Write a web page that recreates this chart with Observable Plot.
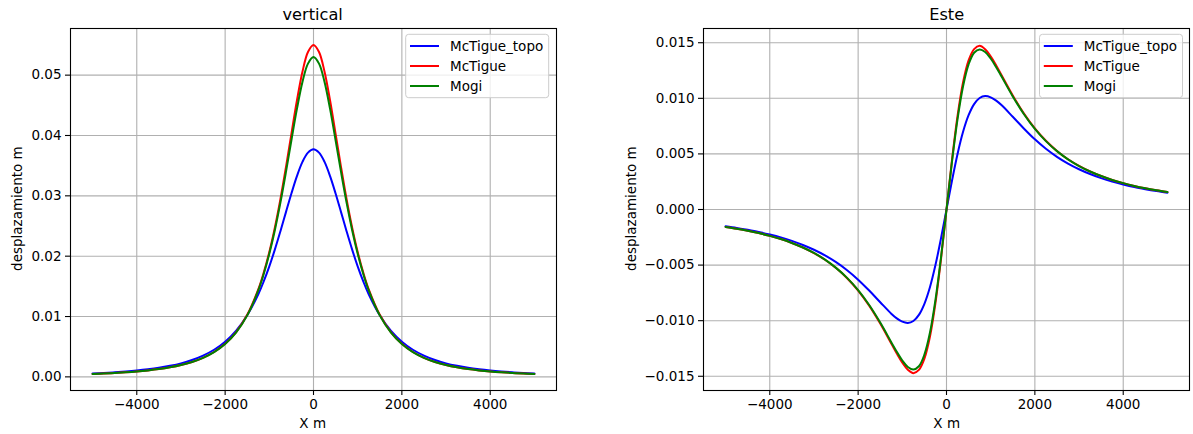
<!DOCTYPE html>
<html>
<head>
<meta charset="utf-8">
<script src="https://cdn.jsdelivr.net/npm/d3@7"></script>
<script src="https://cdn.jsdelivr.net/npm/@observablehq/plot@0.6"></script>
<style>
  html, body { margin: 0; padding: 0; background: #fff; }
  #wrap { position: relative; width: 1193px; height: 434px; overflow: hidden; background: #fff; font-family: "DejaVu Sans", sans-serif; }
  #wrap > .panel { position: absolute; top: 0; }
  #overlay { position: absolute; left: 0; top: 0; pointer-events: none; }
</style>
</head>
<body>
<div id="wrap">
  <div class="panel" id="left" style="left:0px"></div>
  <div class="panel" id="right" style="left:600px"></div>
</div>
<script>
// ---------- data ----------
const xPos = [-5000,-4750,-4500,-4250,-4000,-3750,-3500,-3250,-3000,-2750,-2500,-2250,-2000,-1750,-1500,
  -1250,-1125,-1000,-875,-750,-625,-500,-375,-250,-125,
  0,125,250,375,500,625,750,875,1000,1125,1250,
  1500,1750,2000,2250,2500,2750,3000,3250,3500,3750,4000,4250,4500,4750,5000];

const seriesNames = ["McTigue_topo", "McTigue", "Mogi"];
const seriesColors = ["blue", "red", "green"];

// panel "vertical"
const vertTopo = [0.00057,0.00065,0.00076,0.00089,0.00105,0.00125,0.00150,0.00183,0.00224,0.00279,0.00352,0.00449,0.00583,0.00766,0.01020,
  0.01368,0.01585,0.01832,0.02108,0.02410,0.02726,0.03039,0.03327,0.03562,0.03716,
  0.0377,0.03716,0.03562,0.03327,0.03039,0.02726,0.02410,0.02108,0.01832,0.01585,0.01368,
  0.01020,0.00766,0.00583,0.00449,0.00352,0.00279,0.00224,0.00183,0.00150,0.00125,0.00105,0.00089,0.00076,0.00065,0.00057];
const vertMcTigue = [0.00047,0.00055,0.00064,0.00075,0.00089,0.00107,0.00129,0.00158,0.00196,0.00247,0.00316,0.00412,0.00547,0.00742,0.01028,
  0.01450,0.01731,0.02070,0.02473,0.02941,0.03468,0.04028,0.04579,0.05056,0.05384,
  0.0550,0.05384,0.05056,0.04579,0.04028,0.03468,0.02941,0.02473,0.02070,0.01731,0.01450,
  0.01028,0.00742,0.00547,0.00412,0.00316,0.00247,0.00196,0.00158,0.00129,0.00107,0.00089,0.00075,0.00064,0.00055,0.00047];
const vertMogi = [0.00047,0.00055,0.00064,0.00075,0.00089,0.00107,0.00129,0.00158,0.00196,0.00247,0.00315,0.00410,0.00544,0.00737,0.01019,
  0.01434,0.01709,0.02040,0.02431,0.02883,0.03388,0.03921,0.04441,0.04887,0.05191,
  0.0530,0.05191,0.04887,0.04441,0.03921,0.03388,0.02883,0.02431,0.02040,0.01709,0.01434,
  0.01019,0.00737,0.00544,0.00410,0.00315,0.00247,0.00196,0.00158,0.00129,0.00107,0.00089,0.00075,0.00064,0.00055,0.00047];

// panel "Este"
const esteTopo = [-0.00151,-0.00166,-0.00183,-0.00202,-0.00225,-0.00251,-0.00282,-0.00319,-0.00362,-0.00413,-0.00474,-0.00546,-0.00631,-0.00729,-0.00834,
  -0.00937,-0.00979,-0.01009,-0.01020,-0.01003,-0.00948,-0.00848,-0.00699,-0.00500,-0.00261,
  0,0.00261,0.00500,0.00699,0.00848,0.00948,0.01003,0.01020,0.01009,0.00979,0.00937,
  0.00834,0.00729,0.00631,0.00546,0.00474,0.00413,0.00362,0.00319,0.00282,0.00251,0.00225,0.00202,0.00183,0.00166,0.00151];
const esteMcTigue = [-0.00157,-0.00173,-0.00191,-0.00212,-0.00237,-0.00266,-0.00301,-0.00342,-0.00392,-0.00452,-0.00527,-0.00618,-0.00729,-0.00865,-0.01026,
  -0.01206,-0.01296,-0.01378,-0.01441,-0.01472,-0.01443,-0.01341,-0.01144,-0.00841,-0.00448,
  0,0.00448,0.00841,0.01144,0.01341,0.01443,0.01472,0.01441,0.01378,0.01296,0.01206,
  0.01026,0.00865,0.00729,0.00618,0.00527,0.00452,0.00392,0.00342,0.00301,0.00266,0.00237,0.00212,0.00191,0.00173,0.00157];
const esteMogi = [-0.00157,-0.00173,-0.00191,-0.00212,-0.00237,-0.00266,-0.00301,-0.00342,-0.00391,-0.00451,-0.00525,-0.00615,-0.00725,-0.00859,-0.01017,
  -0.01193,-0.01280,-0.01358,-0.01416,-0.01439,-0.01410,-0.01305,-0.01109,-0.00813,-0.00432,
  0,0.00432,0.00813,0.01109,0.01305,0.01410,0.01439,0.01416,0.01358,0.01280,0.01193,
  0.01017,0.00859,0.00725,0.00615,0.00525,0.00451,0.00391,0.00342,0.00301,0.00266,0.00237,0.00212,0.00191,0.00173,0.00157];

const xTicks = [-4000, -2000, 0, 2000, 4000];
const yTicksVert = [0.00, 0.01, 0.02, 0.03, 0.04, 0.05];
const yTicksEste = [-0.015, -0.010, -0.005, 0.000, 0.005, 0.010, 0.015];

const titles = ["vertical", "Este"];
const xLabel = "X m";
const yLabel = "desplazamiento m";

// ---------- build tables ----------
function table(arrs) {
  const rows = [];
  arrs.forEach((arr, k) => {
    arr.forEach((v, i) => rows.push({x: xPos[i], y: v, s: seriesNames[k]}));
  });
  return rows;
}
const vertData = table([vertTopo, vertMcTigue, vertMogi]);
const esteData = table([esteTopo, esteMcTigue, esteMogi]);

const gridStyle = {stroke: "#b0b0b0", strokeOpacity: 1, strokeWidth: 1.1};

function panel({data, width, marginLeft, marginRight, yDomain, yTicks, yFmt}) {
  return Plot.plot({
    width, height: 434,
    marginLeft, marginRight, marginTop: 28, marginBottom: 44,
    style: {fontFamily: "DejaVu Sans, sans-serif", fontSize: "13.5px", color: "black", background: "transparent", overflow: "visible"},
    x: {domain: [-5500, 5500]},
    y: {domain: yDomain},
    color: {domain: seriesNames, range: seriesColors},
    marks: [
      Plot.gridX(xTicks, gridStyle),
      Plot.gridY(yTicks, gridStyle),
      Plot.line(data, {x: "x", y: "y", z: "s", stroke: "s", strokeWidth: 2, curve: "catmull-rom"}),
      Plot.frame({stroke: "black", strokeWidth: 1.1}),
      Plot.axisX(xTicks, {tickSize: 5, tickPadding: 4, strokeWidth: 1.1, tickFormat: d3.format("d"), label: null}),
      Plot.axisY(yTicks, {tickSize: 5, tickPadding: 4, strokeWidth: 1.1, tickFormat: d3.format(yFmt), label: null})
    ]
  });
}

document.getElementById("left").appendChild(panel({
  data: vertData, width: 600, marginLeft: 70, marginRight: 44,
  yDomain: [-0.00226, 0.05773], yTicks: yTicksVert, yFmt: ".2f"
}));
document.getElementById("right").appendChild(panel({
  data: esteData, width: 593, marginLeft: 103, marginRight: 4,
  yDomain: [-0.01628, 0.01628], yTicks: yTicksEste, yFmt: ".3f"
}));

// ---------- titles, axis labels, legends ----------
const svg = d3.select("#wrap").append("svg").attr("id", "overlay")
  .attr("width", 1193).attr("height", 434)
  .style("font-family", "DejaVu Sans, sans-serif");

const panels = [
  {cx: 312.7, ylabX: 21.5, legX: 405.7},
  {cx: 946.7, ylabX: 635.5, legX: 1039.5}
];
panels.forEach((p, i) => {
  svg.append("text").attr("x", p.cx).attr("y", 20).attr("text-anchor", "middle")
    .attr("font-size", 16.2).attr("fill", "black").text(titles[i]);
  svg.append("text").attr("x", p.cx).attr("y", 428).attr("text-anchor", "middle")
    .attr("font-size", 13.5).attr("fill", "black").text(xLabel);
  svg.append("text").attr("transform", `translate(${p.ylabX},208.6) rotate(-90)`)
    .attr("text-anchor", "middle").attr("font-size", 13.5).attr("fill", "black").text(yLabel);

  const g = svg.append("g").attr("transform", `translate(${p.legX},34.3)`);
  g.append("rect").attr("x", 0).attr("y", 0).attr("width", 143).attr("height", 63.4)
    .attr("rx", 3).attr("fill", "white").attr("fill-opacity", 0.8)
    .attr("stroke", "#cccccc").attr("stroke-width", 1);
  seriesNames.forEach((name, k) => {
    const yy = 11.7 + k * 20;
    g.append("line").attr("x1", 4.3).attr("x2", 33.3).attr("y1", yy).attr("y2", yy)
      .attr("stroke", seriesColors[k]).attr("stroke-width", 2);
    g.append("text").attr("x", 44.3).attr("y", yy + 4.8).attr("font-size", 13.5)
      .attr("fill", "black").text(name);
  });
});
</script>
</body>
</html>
